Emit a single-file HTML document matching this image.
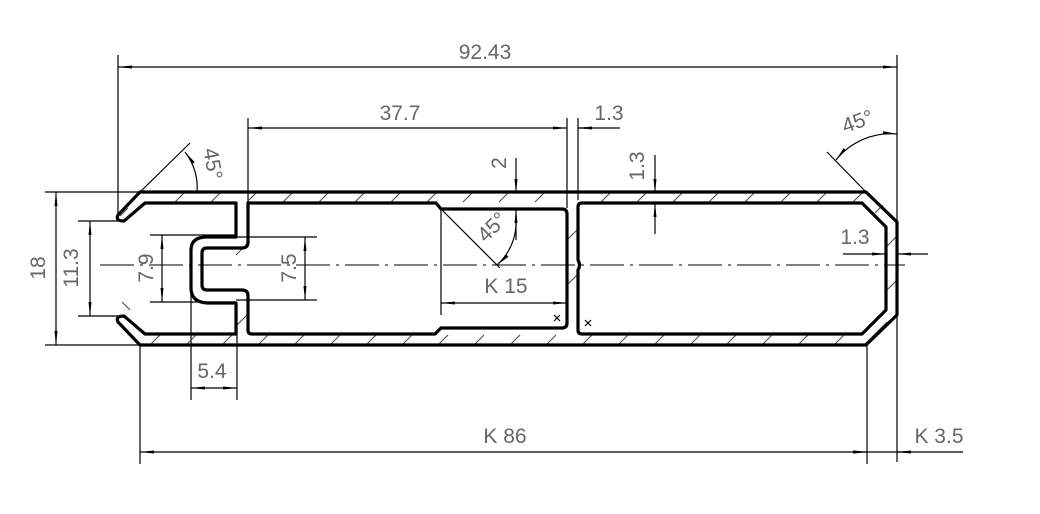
<!DOCTYPE html>
<html><head><meta charset="utf-8"><style>
html,body{margin:0;padding:0;background:#fff}
svg{display:block}
text{font-family:"Liberation Sans",sans-serif;font-size:21px;fill:#666;font-weight:normal}
</style></head><body>
<svg width="1040" height="514" viewBox="0 0 1040 514" xmlns="http://www.w3.org/2000/svg">
<defs>
<marker id="a" markerWidth="14" markerHeight="4" refX="14" refY="2" orient="auto-start-reverse" markerUnits="userSpaceOnUse"><path d="M0,0.5 L14,2 L0,3.5 Z" fill="#000"/></marker>
</defs>
<g fill="none" stroke="#000" stroke-width="1.2">
<line x1="118" y1="55" x2="118" y2="218"/>
<line x1="897" y1="55" x2="897" y2="462"/>
<line x1="118" y1="67" x2="897" y2="67" marker-start="url(#a)" marker-end="url(#a)"/>
<line x1="248" y1="118" x2="248" y2="203"/>
<line x1="567" y1="118" x2="567" y2="208"/>
<line x1="578" y1="118" x2="578" y2="200"/>
<line x1="248" y1="128" x2="567" y2="128" marker-start="url(#a)" marker-end="url(#a)"/>
<line x1="578" y1="128" x2="620" y2="128"/>
<line x1="592" y1="128" x2="578" y2="128" marker-end="url(#a)"/>
<line x1="516" y1="158" x2="516" y2="193" marker-end="url(#a)"/>
<line x1="516" y1="240" x2="516" y2="209" marker-end="url(#a)"/>
<line x1="655" y1="155" x2="655" y2="193" marker-end="url(#a)"/>
<line x1="655" y1="234" x2="655" y2="203" marker-end="url(#a)"/>
<line x1="435" y1="203" x2="500" y2="268"/>
<path d="M516,218 A58,58 0 0 1 497,265" marker-end="url(#a)"/>
<line x1="441" y1="210" x2="441" y2="315"/>
<line x1="441" y1="303" x2="567" y2="303" marker-start="url(#a)" marker-end="url(#a)"/>
<line x1="45" y1="192" x2="140" y2="192"/>
<line x1="45" y1="345" x2="140" y2="345"/>
<line x1="56" y1="192" x2="56" y2="345" marker-start="url(#a)" marker-end="url(#a)"/>
<line x1="78" y1="221" x2="118" y2="221"/>
<line x1="78" y1="316" x2="118" y2="316"/>
<line x1="90" y1="221" x2="90" y2="316" marker-start="url(#a)" marker-end="url(#a)"/>
<line x1="150" y1="235" x2="236" y2="235"/>
<line x1="150" y1="302" x2="236" y2="302"/>
<line x1="162" y1="235" x2="162" y2="302" marker-start="url(#a)" marker-end="url(#a)"/>
<line x1="236" y1="237" x2="317" y2="237"/>
<line x1="236" y1="300" x2="317" y2="300"/>
<line x1="305" y1="237" x2="305" y2="300" marker-start="url(#a)" marker-end="url(#a)"/>
<line x1="191" y1="250" x2="191" y2="400"/>
<line x1="237" y1="303" x2="237" y2="400"/>
<line x1="191" y1="388" x2="237" y2="388" marker-start="url(#a)" marker-end="url(#a)"/>
<line x1="140" y1="345" x2="140" y2="464"/>
<line x1="867" y1="345" x2="867" y2="464"/>
<line x1="140" y1="452" x2="867" y2="452" marker-start="url(#a)" marker-end="url(#a)"/>
<line x1="867" y1="452" x2="963" y2="452"/>
<line x1="911" y1="452" x2="897" y2="452" marker-end="url(#a)"/>
<line x1="853" y1="452" x2="867" y2="452" marker-end="url(#a)"/>
<line x1="140" y1="192" x2="190" y2="143"/>
<path d="M185,152 A57,57 0 0 1 197,192" marker-start="url(#a)"/>
<line x1="827" y1="152" x2="866" y2="192"/>
<path d="M836,160 A70,70 0 0 1 897,134" marker-start="url(#a)" marker-end="url(#a)"/>
<line x1="843" y1="254" x2="886" y2="254" marker-end="url(#a)"/>
<line x1="928" y1="254" x2="897" y2="254" marker-end="url(#a)"/>
<line x1="100" y1="265" x2="905" y2="265" stroke-dasharray="34,6,3,6" stroke-width="1"/>
<path d="M554,315 l6,6 M560,315 l-6,6 M585,320 l6,6 M591,320 l-6,6"/>
</g>
<g stroke="#444" stroke-width="1">
<path d="M175,202 l10,-10 M211,202 l10,-10 M247,202 l10,-10 M283,202 l10,-10 M319,202 l10,-10 M355,202 l10,-10 M391,202 l10,-10 M427,202 l10,-10 M463,202 l10,-10 M499,202 l10,-10 M535,202 l10,-10 M601,202 l10,-10 M637,202 l10,-10 M673,202 l10,-10 M709,202 l10,-10 M745,202 l10,-10 M781,202 l10,-10 M817,202 l10,-10 M853,202 l10,-10"/>
<path d="M150,345 l10,-10 M186,345 l10,-10 M222,345 l10,-10 M258,345 l10,-10 M294,345 l10,-10 M330,345 l10,-10 M366,345 l10,-10 M402,345 l10,-10 M438,345 l10,-10 M474,345 l10,-10 M510,345 l10,-10 M546,345 l10,-10 M582,345 l10,-10 M618,345 l10,-10 M654,345 l10,-10 M690,345 l10,-10 M726,345 l10,-10 M762,345 l10,-10 M798,345 l10,-10 M834,345 l10,-10"/>
<path d="M567,240 l11,-11 M567,285 l11,-11 M236,255 l12,-12 M236,326 l12,-12 M887,246 l10,-10 M887,290 l10,-10 M875,213 l8,-8 M865,344 l22,-22 M120,216 l8,-8 M130,310 l-8,-8"/>
</g>
<g fill="none" stroke="#000" stroke-width="3.2" stroke-linejoin="round">
<path d="M140,192 L866,192 L897,222 L897,315 L866,345 L140,345 L118,322 Q115,316 124,316 L145,334 L236,334 L236,303 L207,303 Q191,302 191,288 L191,250 Q191,237 207,237 L236,237 L236,203 L145,203 L124,221 Q115,221 118,215 Z"/>
<path d="M248,203 L436,203 L441,209 L562,209 Q567,209 567,214 L567,323 Q567,328 562,328 L441,328 L435,334 L252,334 Q248,334 248,330 L248,296 Q248,290 242,290 L207,290 Q202,290 202,285 L202,253 Q202,248 207,248 L242,248 Q248,248 248,242 Z"/>
<path d="M582,203 L862,203 L886,227 L886,310 L862,334 L582,334 Q578,334 578,330 L578,270 Q581,265 578,260 L578,207 Q578,203 582,203 Z"/>
</g>
<text x="485" y="59" text-anchor="middle">92.43</text>
<text x="400" y="120" text-anchor="middle">37.7</text>
<text x="609" y="120" text-anchor="middle">1.3</text>
<text transform="translate(506,163) rotate(-90)" text-anchor="middle">2</text>
<text transform="translate(644,166) rotate(-90)" text-anchor="middle">1.3</text>
<text transform="translate(497,232) rotate(-45)" text-anchor="middle">45°</text>
<text x="506" y="293" text-anchor="middle">K 15</text>
<text transform="translate(45,268) rotate(-90)" text-anchor="middle">18</text>
<text transform="translate(78,268) rotate(-90)" text-anchor="middle">11.3</text>
<text transform="translate(153,268) rotate(-90)" text-anchor="middle">7.9</text>
<text transform="translate(296,268) rotate(-90)" text-anchor="middle">7.5</text>
<text x="212" y="378" text-anchor="middle">5.4</text>
<text x="505" y="443" text-anchor="middle">K 86</text>
<text x="939" y="443" text-anchor="middle">K 3.5</text>
<text transform="translate(206,165) rotate(80)" text-anchor="middle">45°</text>
<text transform="translate(860,128) rotate(-20)" text-anchor="middle">45°</text>
<text x="855" y="244" text-anchor="middle">1.3</text>
</svg>
</body></html>
